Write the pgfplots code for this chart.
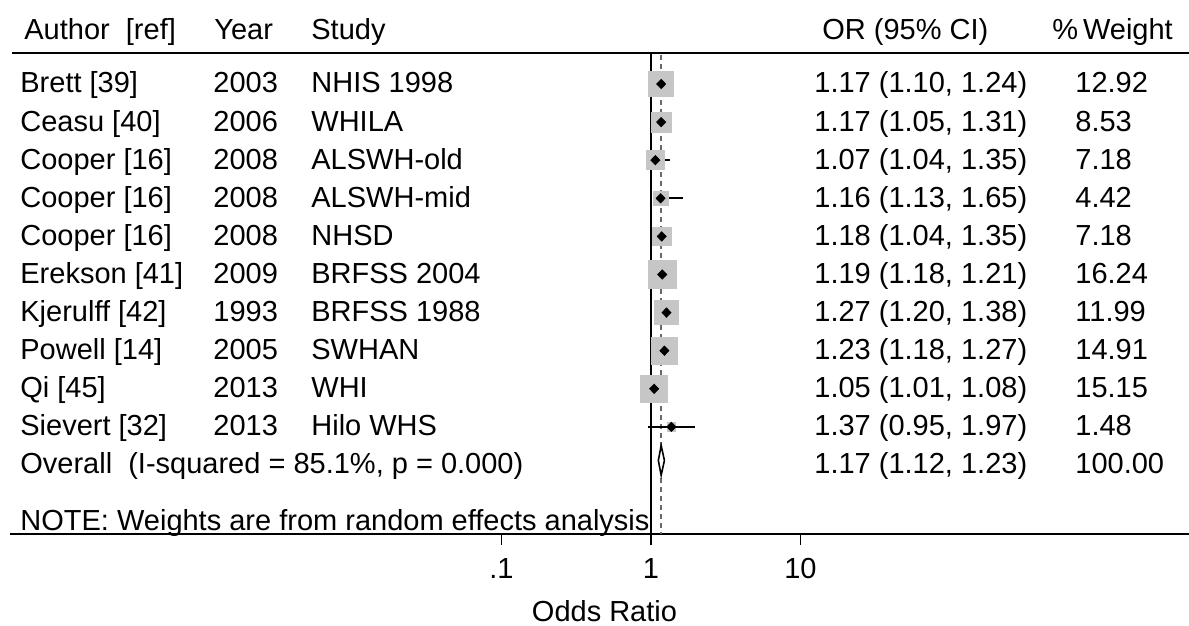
\documentclass[border=0pt]{standalone}
\usepackage{fontspec}
\setmainfont{Liberation Sans}
\usepackage{pgfplots}
\usepackage{pgfplotstable}
\pgfplotsset{compat=1.18}
\definecolor{boxgray}{RGB}{198,198,198}
\definecolor{dashgray}{RGB}{105,105,105}

% study estimates: row, OR, lower, upper, weight
\pgfplotstableread{
k or lo hi w
1 1.17 1.10 1.24 12.92
2 1.17 1.05 1.31 8.53
3 1.07 1.04 1.35 7.18
4 1.16 1.13 1.65 4.42
5 1.18 1.04 1.35 7.18
6 1.19 1.18 1.21 16.24
7 1.27 1.20 1.38 11.99
8 1.23 1.18 1.27 14.91
9 1.05 1.01 1.08 15.15
10 1.37 0.95 1.97 1.48
}\studies

% confidence interval segments
\pgfplotstableread{
x y
1.10 -1
1.24 -1
nan nan
1.05 -2
1.31 -2
nan nan
1.04 -3
1.35 -3
nan nan
1.13 -4
1.65 -4
nan nan
1.04 -5
1.35 -5
nan nan
1.18 -6
1.21 -6
nan nan
1.20 -7
1.38 -7
nan nan
1.18 -8
1.27 -8
nan nan
1.01 -9
1.08 -9
nan nan
0.95 -10
1.97 -10
}\cis

\newcommand\rowtext[6]{%
  \node[anchor=base west] at (20,#1) {#2};
  \node[anchor=base west] at (213,#1) {#3};
  \node[anchor=base west] at (311,#1) {#4};
  \node[anchor=base west] at (814,#1) {#5};
  \node[anchor=base west] at (1075,#1) {#6};}

\begin{document}
\begin{tikzpicture}[font=\fontsize{14.5}{17}\selectfont]
\begin{axis}[
  at={(0,0)}, anchor=south west,
  scale only axis, width=589.5pt, height=267pt,
  xmode=log, log basis x=10,
  xmin=5.159e-5, xmax=3969,
  ymin=-12.811, ymax=1.205,
  axis y line=none, axis x line*=bottom,
  x axis line style={-, line width=1.4pt},
  xtick={0.1,1,10},
  xticklabels={\mbox{.1},\mbox{1},\mbox{10}},
  xminorticks=false,
  xtick align=outside,
  major tick length=5.5pt,
  x tick style={black, line width=0.8pt},
  xticklabel style={font=\fontsize{14.5}{17}\selectfont, yshift=-3pt},
  xlabel={Odds Ratio},
  xlabel style={font=\fontsize{14.5}{17}\selectfont, xshift=2.5pt, yshift=-4pt},
  clip=false,
]
% weight boxes
\addplot[scatter, only marks, mark=square*,
  scatter/use mapped color={draw=boxgray, fill=boxgray},
  visualization depends on={1.74*sqrt(\thisrow{w}) \as \msz},
  scatter/@pre marker code/.append style={/tikz/mark size=\msz}]
  table[x=or, y expr=-\thisrow{k}] {\studies};
% reference lines
\addplot[black, line width=1pt] coordinates {(1,-0.186) (1,-12.811)};
\addplot[dashgray, line width=0.8pt, dash pattern=on 2.5pt off 2pt] coordinates {(1.17,-0.25) (1.17,-12.811)};
% confidence intervals
\addplot[black, line width=0.9pt, unbounded coords=jump] table[x=x, y=y] {\cis};
% point estimates
\addplot[only marks, mark=diamond*, mark size=2.3pt, mark options={xscale=1.3}, black] table[x=or, y expr=-\thisrow{k}] {\studies};
% overall diamond
\addplot[black, fill=white, line width=0.8pt] coordinates {(1.12,-10.88) (1.17,-10.49) (1.23,-10.88) (1.17,-11.27) (1.12,-10.88)};
\end{axis}

\begin{scope}[x=0.5pt, y=-0.5pt, shift={(-10,-534)}, every node/.style={inner sep=0pt}]
  \draw[line width=1pt] (12,53) -- (1189,53);
  % header
  \node[anchor=base west] at (24,39.5) {Author\ \ [ref]};
  \node[anchor=base west] at (214,39.5) {Year};
  \node[anchor=base west] at (311,39.5) {Study};
  \node[anchor=base west] at (822,39.5) {OR (95\% CI)};
  \node[anchor=base west] at (1052,39.5) {\%\thinspace Weight};
  % rows
  \rowtext{93}{Brett [39]}{2003}{NHIS 1998}{1.17 (1.10, 1.24)}{12.92}
  \rowtext{131.1}{Ceasu [40]}{2006}{WHILA}{1.17 (1.05, 1.31)}{8.53}
  \rowtext{169.2}{Cooper [16]}{2008}{ALSWH-old}{1.07 (1.04, 1.35)}{7.18}
  \rowtext{207.3}{Cooper [16]}{2008}{ALSWH-mid}{1.16 (1.13, 1.65)}{4.42}
  \rowtext{245.4}{Cooper [16]}{2008}{NHSD}{1.18 (1.04, 1.35)}{7.18}
  \rowtext{283.5}{Erekson [41]}{2009}{BRFSS 2004}{1.19 (1.18, 1.21)}{16.24}
  \rowtext{321.6}{Kjerulff [42]}{1993}{BRFSS 1988}{1.27 (1.20, 1.38)}{11.99}
  \rowtext{359.7}{Powell [14]}{2005}{SWHAN}{1.23 (1.18, 1.27)}{14.91}
  \rowtext{397.8}{Qi [45]}{2013}{WHI}{1.05 (1.01, 1.08)}{15.15}
  \rowtext{435.9}{Sievert [32]}{2013}{Hilo WHS}{1.37 (0.95, 1.97)}{1.48}
  \node[anchor=base west] at (20,474) {Overall\ \ (I-squared = 85.1\%, p = 0.000)};
  \node[anchor=base west] at (814,474) {1.17 (1.12, 1.23)};
  \node[anchor=base west] at (1075,474) {100.00};
  \node[anchor=base west] at (20,531) {NOTE: Weights are from random effects analysis};
  \pgfresetboundingbox
  \path[use as bounding box] (0,0) rectangle (1189,626);
\end{scope}
\end{tikzpicture}
\end{document}
